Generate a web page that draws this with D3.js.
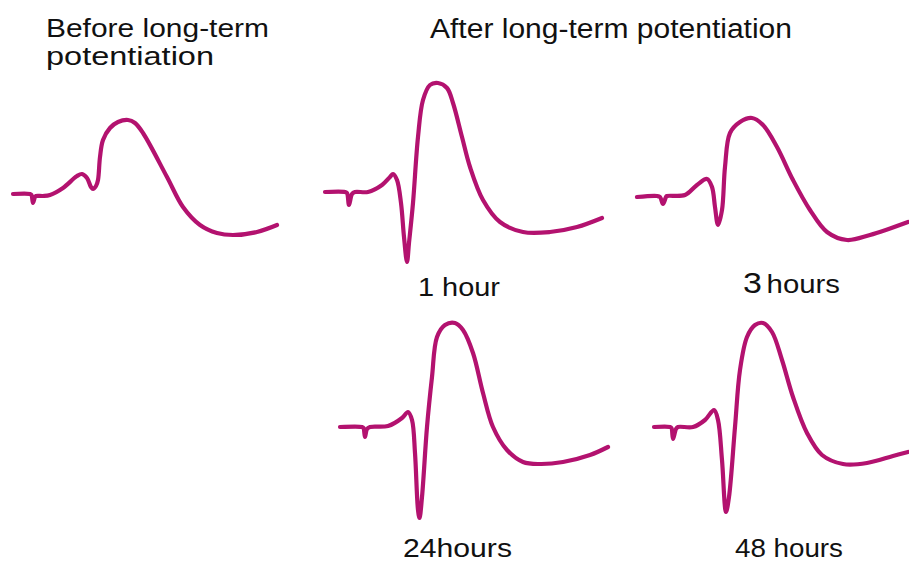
<!DOCTYPE html>
<html>
<head>
<meta charset="utf-8">
<script src="https://cdn.jsdelivr.net/npm/d3@7"></script>
<style>
    body { margin: 0; background: #fff; }
    text { font-family: "Liberation Sans", Arial, sans-serif; fill: #111; }
</style>
</head>
<body>
<svg id="ltp"></svg>
<script>
// Traces: [time (ms), potential (mV, relative to baseline)]
const beforeLTP = [
    [0, 0], [6.8, 0], [7.4, -0.1], [8.0, -0.9], [8.8, -0.3], [9.2, -0.2], [12.0, -0.2],
    [14.8, -0.1], [20.0, 0.6], [25.6, 1.8], [27.6, 2.0], [29.6, 1.6], [31.2, 0.7],
    [32.0, 0.5], [33.2, 0.8], [34.0, 1.4], [34.8, 3.7], [36.0, 5.4], [38.8, 6.6],
    [42.0, 7.2], [46.0, 7.4], [48.8, 7.1], [52.0, 6.1], [61.6, 1.7], [68.0, -1.3],
    [74.8, -3.1], [81.6, -3.9], [88.0, -4.1], [97.6, -3.8], [105.6, -3.1]
];
const after1h = [
    [0, 0], [8, 0], [8.8, -0.1], [9.6, -1.3], [10.8, -0.2], [12, 0], [17.2, 0],
    [22.8, 0.7], [26, 1.5], [27.2, 1.8], [28.8, 1.2], [30.4, -1.1], [31.6, -4.5],
    [32.8, -7.0], [33.6, -5.1], [35.2, -1.1], [37.2, 5.5], [39.2, 9.2], [42, 10.7],
    [45.2, 10.9], [48.8, 10.4], [51.2, 8.9], [54.8, 5.5], [58, 2.5], [63.2, -0.8],
    [70, -3.0], [79.2, -4.0], [90, -4.0], [100.8, -3.5], [110.8, -2.6]
];
const after3h = [
    [0, -0.1], [8, 0], [9.2, -0.1], [10.4, -0.8], [11.6, -0.1], [12, 0], [19.2, 0.1],
    [24, 1.1], [28, 1.7], [30, 0.9], [31.2, -1.1], [32.4, -2.9], [34, -1.4],
    [35.2, 2.9], [37.2, 6.3], [41.2, 7.4], [46, 7.8], [50.4, 7.1], [56, 4.9],
    [62.4, 1.6], [69.2, -1.4], [76, -3.6], [84, -4.4], [93.2, -3.9], [108.4, -2.6]
];
const after24h = [
    [0, 0], [8.8, 0], [9.4, -0.1], [10, -1.0], [10.8, -0.2], [12, 0], [19.2, 0.1],
    [24.8, 0.9], [27.2, 1.5], [28.8, 0.7], [30, -2.6], [31.2, -8.3], [31.8, -9.1],
    [32.8, -7.0], [34.8, 0], [36.8, 5.0], [38.8, 9.0], [42, 10.2], [46, 10.4],
    [49.2, 9.7], [53.2, 7.4], [57.2, 3.4], [61.2, 0], [66.8, -2.3], [73.2, -3.5],
    [80, -3.7], [89.2, -3.5], [100, -2.8], [107.2, -2.0]
];
const after48h = [
    [0, 0], [6.4, 0], [7, -0.1], [7.6, -1.2], [8.8, -0.2], [9.6, 0], [15.6, 0],
    [20.4, 0.7], [24, 1.7], [25.6, 0.7], [27.2, -3.3], [28.8, -8.5], [30, -7.0],
    [32.4, 0], [34.4, 5.7], [37.2, 9.0], [40.4, 10.2], [43.6, 10.4], [47.2, 9.5],
    [51.2, 6.7], [55.6, 3.0], [61.2, -0.6], [67.2, -2.8], [75.6, -3.7], [85.2, -3.6],
    [95.6, -2.9], [101.6, -2.5]
];

// label split into number and unit, the "3" is set a bit larger in the original
const traceLabels = [null, ["1", " hour"], ["3", "hours"], ["24", "hours"], ["48", " hours"]];
const traces = [beforeLTP, after1h, after3h, after24h, after48h];

const svgWidth = 909, svgHeight = 562;
const color = "#b3126f";

const svg = d3.select("#ltp")
    .attr("width", svgWidth)
    .attr("height", svgHeight);

// where each trace sits: left edge and baseline in px
const panels = [
    { x0: 13, y0: 194, label: null },
    { x0: 325, y0: 192, label: { x: 418, y: 296, len: 82, numSize: 25, gap: 0 } },
    { x0: 637, y0: 196, label: { x: 743, y: 293, len: 97, numSize: 29, gap: 4 } },
    { x0: 340, y0: 427, label: { x: 403, y: 557, len: 109, numSize: 25, gap: 0 } },
    { x0: 654, y0: 427, label: { x: 735, y: 557, len: 108, numSize: 25, gap: 0 } }
];

panels.forEach((p, i) => {
    // same scale for every trace: 2.5 px per ms, 10 px per mV
    const x = d3.scaleLinear().domain([0, 110]).range([p.x0, p.x0 + 275]);
    const y = d3.scaleLinear().domain([-10, 12]).range([p.y0 + 100, p.y0 - 120]);

    const line = d3.line()
        .x(d => x(d[0]))
        .y(d => y(d[1]))
        .curve(d3.curveCatmullRom.alpha(0.5));

    svg.append("path")
        .datum(traces[i])
        .attr("fill", "none")
        .attr("stroke", color)
        .attr("stroke-width", 4.2)
        .attr("stroke-linejoin", "round")
        .attr("stroke-linecap", "round")
        .attr("d", line);

    if (p.label) {
        const t = svg.append("text")
            .attr("x", p.label.x)
            .attr("y", p.label.y)
            .attr("textLength", p.label.len)
            .attr("lengthAdjust", "spacingAndGlyphs")
            .style("font-size", "25px");
        t.append("tspan")
            .style("font-size", p.label.numSize + "px")
            .text(traceLabels[i][0]);
        t.append("tspan")
            .attr("dx", p.label.gap)
            .text(traceLabels[i][1]);
    }
});

// headings
const headings = [
    { t: "Before long-term", x: 46, y: 37, len: 223, size: 26 },
    { t: "potentiation", x: 46, y: 65, len: 168, size: 26 },
    { t: "After long-term potentiation", x: 430, y: 38, len: 362, size: 27 }
];
headings.forEach(h => {
    svg.append("text")
        .attr("x", h.x)
        .attr("y", h.y)
        .attr("textLength", h.len)
        .attr("lengthAdjust", "spacingAndGlyphs")
        .style("font-size", h.size + "px")
        .text(h.t);
});
</script>
</body>
</html>
